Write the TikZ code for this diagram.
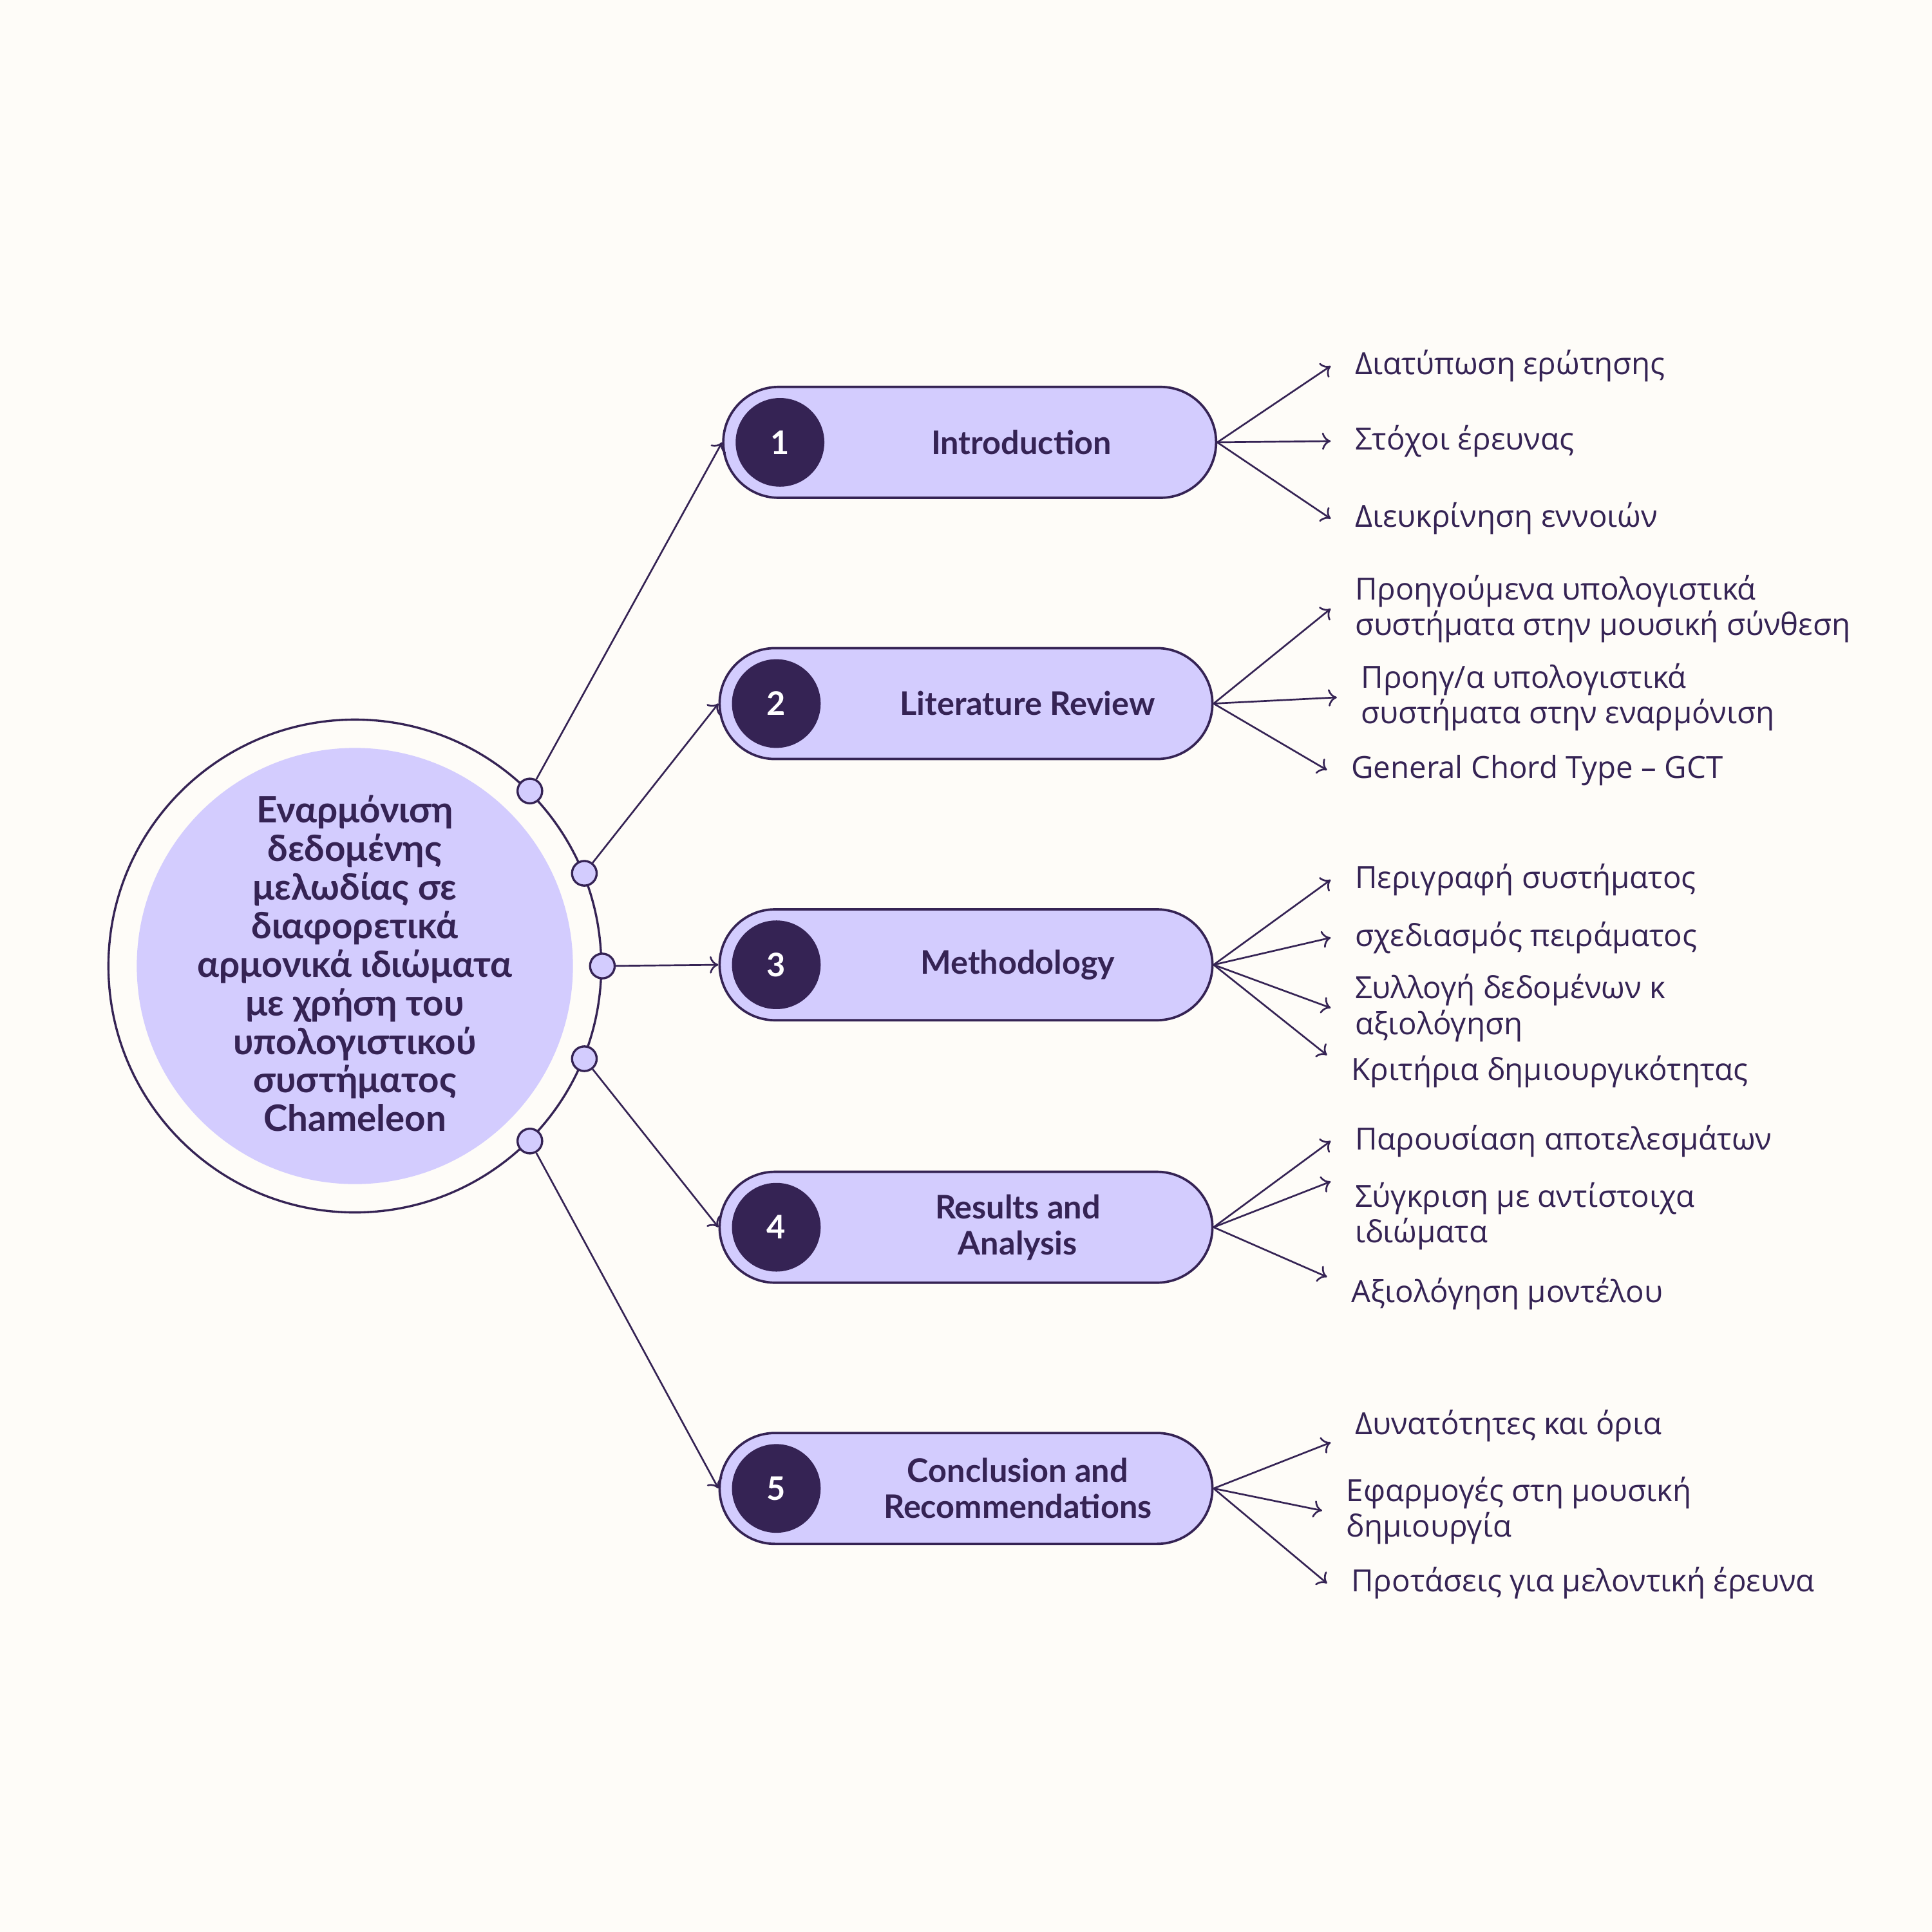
\documentclass[tikz,border=0pt]{standalone}
\usepackage{fontspec}
\setmainfont{Open Sans}
\newfontfamily\headfont{Lato}
\usepackage{tikz}
\usetikzlibrary{positioning, arrows.meta, shapes.misc}
\definecolor{cream}{HTML}{FEFCF8}
\definecolor{lav}{HTML}{D3CCFE}
\definecolor{deep}{HTML}{352354}

\tikzset{
  pill/.style={rounded rectangle, draw=deep, fill=lav, line width=0.55pt,
    minimum width=40mm, minimum height=9mm, inner sep=0pt},
  numdot/.style={circle, fill=deep, text=white, minimum size=7.2mm, inner sep=0pt,
    font=\headfont\bfseries\fontsize{7.5}{8}\selectfont},
  pilltext/.style={text=deep, align=center,
    font=\headfont\bfseries\fontsize{7.5}{8.3}\selectfont},
  joint/.style={circle, draw=deep, fill=lav, line width=0.5pt, minimum size=2mm, inner sep=0pt},
  item/.style={anchor=west, text=deep, align=left, inner xsep=1.9mm, inner ysep=0pt,
    font=\fontsize{7.05}{8.2}\selectfont},
  link/.style={draw=deep, line width=0.4pt, -{To[length=0.7mm,width=1.4mm]}},
}

\begin{document}
\begin{tikzpicture}[x=0.1mm, y=-0.1mm]
				\fill[cream] (0,0) rectangle (1568,1568);
				\useasboundingbox (0,0) rectangle (1568,1568);
				
				% central topic
				\node[circle, draw=deep, line width=0.5pt, minimum size=40mm, inner sep=0pt] (hub) at (288,784) {};
				\node[circle, fill=lav, minimum size=35.4mm, inner sep=0pt] (core) at (hub.center) {};
				\node[text=deep, align=center, font=\headfont\bfseries\fontsize{8.4}{8.9}\selectfont] (topic) at ([yshift=0.2mm]core.center)
				{Εναρμόνιση\\ δεδομένης\\ μελωδίας σε\\ διαφορετικά\\ αρμονικά ιδιώματα\\ με χρήση του\\ υπολογιστικού\\ συστήματος\\ Chameleon};
				
				\node[joint] (j1) at (hub.45) {};
				\node[joint] (j2) at (hub.22.5) {};
				\node[joint] (j3) at (hub.0) {};
				\node[joint] (j4) at (hub.-22.5) {};
				\node[joint] (j5) at (hub.-45) {};
				
				% chapters
				\node[pill] (p1) at (787,359) {};
				\node[pill] (p2) at (784,571) {};
				\node[pill] (p3) at (784,783) {};
				\node[pill] (p4) at (784,996) {};
				\node[pill] (p5) at (784,1208) {};
				
				\node[numdot] at ([xshift=4.7mm]p1.west) {1};
				\node[numdot] at ([xshift=4.7mm]p2.west) {2};
				\node[numdot] at ([xshift=4.7mm]p3.west) {3};
				\node[numdot] at ([xshift=4.7mm]p4.west) {4};
				\node[numdot] at ([xshift=4.7mm]p5.west) {5};
				
				\node[pilltext] at ([xshift=4.2mm]p1.center) {Introduction};
				\node[pilltext] at ([xshift=5mm]p2.center) {Literature Review};
				\node[pilltext] at ([xshift=4.2mm]p3.center) {Methodology};
				\node[pilltext] at ([xshift=4.2mm]p4.center) {Results and\\ Analysis};
				\node[pilltext] at ([xshift=4.2mm]p5.center) {Conclusion and\\ Recommendations};
				
				\draw[link] (j1) -- (p1.west);
				\draw[link] (j2) -- (p2.west);
				\draw[link] (j3) -- (p3.west);
				\draw[link] (j4) -- (p4.west);
				\draw[link] (j5) -- (p5.west);
				
				% sub-topics
				\node[item] (i11) at (1080,297) {Διατύπωση ερώτησης};
				\node[item] (i12) at (1080,358) {Στόχοι έρευνας};
				\node[item] (i13) at (1080,421) {Διευκρίνηση εννοιών};
				
				\node[item] (i21) at (1080,494) {Προηγούμενα υπολογιστικά\\ συστήματα στην μουσική σύνθεση};
				\node[item] (i22) at (1085,566) {Προηγ/α υπολογιστικά\\ συστήματα στην εναρμόνιση};
				\node[item] (i23) at (1077,625) {General Chord Type – GCT};
				
				\node[item] (i31) at (1080,714) {Περιγραφή συστήματος};
				\node[item] (i32) at (1080,761) {σχεδιασμός πειράματος};
				\node[item] (i33) at (1080,818) {Συλλογή δεδομένων κ\\ αξιολόγηση};
				\node[item] (i34) at (1077,870) {Κριτήρια δημιουργικότητας};
				
				\node[item] (i41) at (1080,926) {Παρουσίαση αποτελεσμάτων};
				\node[item] (i42) at (1080,987) {Σύγκριση με αντίστοιχα\\ ιδιώματα};
				\node[item] (i43) at (1077,1050) {Αξιολόγηση μοντέλου};
				
				\node[item] (i51) at (1080,1157) {Δυνατότητες και όρια};
				\node[item] (i52) at (1073,1226) {Εφαρμογές στη μουσική\\ δημιουργία};
				\node[item] (i53) at (1077,1285) {Προτάσεις για μελοντική έρευνα};
				
				\draw[link] (p1.east) -- (i11.west);
				\draw[link] (p1.east) -- (i12.west);
				\draw[link] (p1.east) -- (i13.west);
				
				\draw[link] (p2.east) -- (i21.west);
				\draw[link] (p2.east) -- (i22.west);
				\draw[link] (p2.east) -- (i23.west);
				
				\draw[link] (p3.east) -- (i31.west);
				\draw[link] (p3.east) -- (i32.west);
				\draw[link] (p3.east) -- (i33.west);
				\draw[link] (p3.east) -- (i34.north west);
				
				\draw[link] (p4.east) -- (i41.west);
				\draw[link] (p4.east) -- (i42.north west);
				\draw[link] (p4.east) -- (i43.north west);
				
				\draw[link] (p5.east) -- (i51.south west);
				\draw[link] (p5.east) -- (i52.west);
				\draw[link] (p5.east) -- (i53.west);
\end{tikzpicture}
\end{document}
